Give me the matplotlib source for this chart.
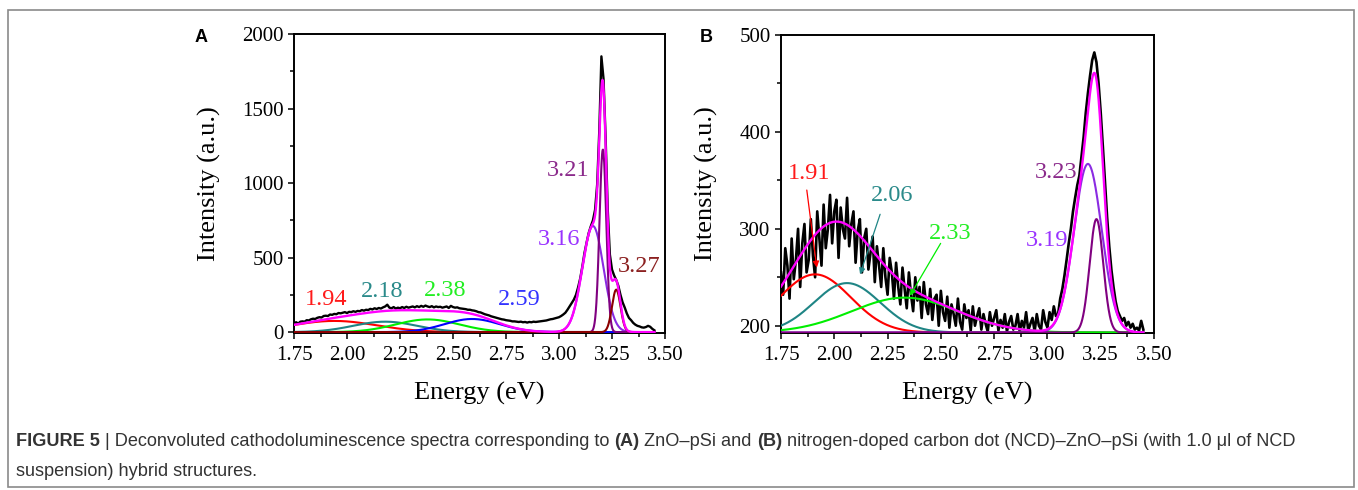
import numpy as np
import matplotlib
matplotlib.use("Agg")
import matplotlib.pyplot as plt
from matplotlib.ticker import MultipleLocator, FixedLocator
from matplotlib.patches import Rectangle

# ---------------- data ----------------
energy_start, energy_step = 1.75, 0.01

# Panel A: measured CL spectrum (ZnO-pSi), 1.75 ... 3.45 eV
spec_A = [60, 66, 58, 70, 72, 70, 80, 78, 86, 90,
          88, 96, 100, 98, 108, 110, 108, 118, 116, 122,
          120, 128, 126, 130, 134, 128, 136, 134, 140, 136,
          142, 140, 148, 144, 150, 148, 156, 152, 160, 155,
          162, 158, 166, 172, 184, 164, 160, 168, 158, 164,
          160, 168, 162, 170, 164, 168, 172, 166, 174, 168,
          176, 170, 178, 172, 168, 174, 166, 172, 168, 170,
          164, 168, 172, 162, 176, 168, 164, 166, 160, 158,
          156, 154, 150, 150, 146, 144, 140, 134, 132, 126,
          120, 116, 112, 106, 102, 98, 94, 90, 86, 84,
          80, 78, 76, 72, 72, 70, 68, 70, 66, 68,
          64, 68, 66, 70, 68, 70, 72, 74, 76, 78,
          82, 86, 88, 92, 96, 100, 108, 118, 130, 150,
          172, 195, 218, 250, 300, 360, 440, 530, 600, 665,
          710, 750, 820, 990, 1350, 1850, 1700, 1300, 820, 520,
          420, 380, 350, 310, 250, 200, 165, 125, 95, 80,
          62, 50, 42, 38, 32, 30, 34, 42, 36, 22,
          12]

# Panel A: Gaussian components
peaks_A = ["1.94", "2.18", "2.38", "2.59", "3.16", "3.21", "3.27"]
center_A = [1.94, 2.18, 2.38, 2.59, 3.16, 3.207, 3.27]
height_A = [75, 70, 85, 88, 712, 1225, 285]
sigma_A = [0.20, 0.15, 0.15, 0.13, 0.05, 0.016, 0.02]
baseline_A = 0

# Panel B: measured CL spectrum (NCD-ZnO-pSi)
spec_B = [255, 232, 280, 262, 228, 290, 248, 268, 300, 240,
          285, 305, 255, 268, 310, 272, 250, 318, 290, 262,
          325, 280, 300, 335, 285, 318, 330, 270, 322, 300,
          290, 332, 282, 305, 318, 265, 298, 310, 255, 290,
          300, 258, 275, 292, 245, 282, 262, 240, 280, 250,
          232, 270, 255, 228, 265, 240, 222, 260, 238, 218,
          255, 232, 215, 250, 226, 240, 208, 245, 222, 212,
          238, 206, 228, 232, 200, 236, 214, 205, 230, 198,
          222, 212, 200, 228, 204, 196, 222, 208, 216, 195,
          220, 200, 210, 218, 196, 212, 202, 194, 214, 200,
          208, 216, 195, 206, 198, 212, 194, 204, 210, 196,
          200, 212, 194, 205, 198, 214, 195, 202, 208, 194,
          212, 200, 196, 216, 204, 198, 214, 206, 220, 210,
          212, 228, 238, 252, 268, 285, 300, 318, 332, 345,
          355, 375, 395, 420, 440, 458, 474, 482, 472, 450,
          420, 385, 348, 312, 282, 258, 240, 225, 215, 210,
          205, 208, 200, 204, 198, 202, 196, 198, 195, 205,
          196]

peaks_B = ["1.91", "2.06", "2.33", "3.19", "3.23"]
center_B = [1.91, 2.06, 2.33, 3.19, 3.23]
height_B = [60, 51, 36, 174, 117]
sigma_B = [0.167, 0.156, 0.25, 0.065, 0.032]
baseline_B = 193

x_ticks = [1.75, 2.00, 2.25, 2.50, 2.75, 3.00, 3.25, 3.50]
y_ticks_A = [0, 500, 1000, 1500, 2000]
y_ticks_B = [200, 300, 400, 500]

# ---------------- styling ----------------
W, H = 1358, 490
plt.rcParams["font.family"] = ["Liberation Serif", "DejaVu Serif"]
fig = plt.figure(figsize=(W / 100, H / 100), dpi=100)
fig.patch.set_facecolor("white")

colors_A = ["#ff0000", "#1f8585", "#00ee00", "#0000ff", "#8a2be2", "#800080", "#8b0000"]
label_colors_A = ["#ff1a1a", "#2a8a8a", "#22ee22", "#3333ff", "#9933ff", "#8b2a8b", "#8b2020"]
colors_B = ["#ff0000", "#1f8585", "#00ee00", "#8a2be2", "#800080"]
label_colors_B = ["#ff1a1a", "#2a8a8a", "#22ee22", "#9933ff", "#8b2a8b"]


def px_axes(l, t, r, b):
    return fig.add_axes([l / W, 1 - b / H, (r - l) / W, (b - t) / H])


def gauss(x, c, h, s):
    return h * np.exp(-0.5 * ((x - c) / s) ** 2)


def style_axes(ax, yticks, yminor, ylim):
    ax.set_xlim(1.75, 3.50)
    ax.set_ylim(*ylim)
    ax.xaxis.set_major_locator(FixedLocator(x_ticks))
    ax.set_xticklabels(["%.2f" % v for v in x_ticks])
    ax.xaxis.set_minor_locator(MultipleLocator(0.125))
    ax.yaxis.set_major_locator(FixedLocator(yticks))
    ax.set_yticklabels([str(v) for v in yticks])
    ax.yaxis.set_minor_locator(MultipleLocator(yminor))
    ax.tick_params(which="both", direction="out", top=False, right=False,
                   labelsize=15, width=1.1, color="black")
    ax.tick_params(which="major", length=4.5, pad=3)
    ax.tick_params(which="minor", length=2.6)
    ax.tick_params(axis="x", which="major", pad=5)
    for sp in ax.spines.values():
        sp.set_linewidth(1.4)
    ax.set_xlabel("Energy (eV)", fontsize=19, labelpad=12)
    ax.set_ylabel("Intensity (a.u.)", fontsize=19, labelpad=15)


xA = energy_start + energy_step * np.arange(len(spec_A))
xB = energy_start + energy_step * np.arange(len(spec_B))
xf = np.linspace(1.75, 3.45, 1200)

# ---------------- panel A ----------------
axA = px_axes(294, 34, 665, 333)
axA.plot(xA, spec_A, color="black", lw=1.7, zorder=2)
compsA = [baseline_A + gauss(xf, c, h, s) for c, h, s in zip(center_A, height_A, sigma_A)]
for y, col in zip(compsA, colors_A):
    axA.plot(xf, y, color=col, lw=1.5, zorder=3)
axA.plot(xf, baseline_A + sum(c - baseline_A for c in compsA), color="#ff00ff", lw=1.7, zorder=4)
style_axes(axA, y_ticks_A, 250, (-6, 2000))

label_pos_A = [(1.90, 219), (2.167, 274), (2.465, 281), (2.811, 219),
               (3.002, 621), (3.042, 1085), (3.377, 442)]
for txt, (lx, ly), col in zip(peaks_A, label_pos_A, label_colors_A):
    axA.text(lx, ly, txt, color=col, fontsize=17.5, ha="center", va="center", zorder=6)

# ---------------- panel B ----------------
axB = px_axes(781, 35, 1154, 333)
axB.plot(xB, spec_B, color="black", lw=1.9, zorder=2)
compsB = [baseline_B + gauss(xf, c, h, s) for c, h, s in zip(center_B, height_B, sigma_B)]
for y, col in zip(compsB, colors_B):
    axB.plot(xf, y, color=col, lw=1.5, zorder=3)
axB.plot(xf, baseline_B + sum(c - baseline_B for c in compsB), color="#ff00ff", lw=1.7, zorder=4)
style_axes(axB, y_ticks_B, 50, (192.5, 500))

label_pos_B = [(1.881, 357), (2.273, 334), (2.543, 295), (2.997, 288), (3.040, 358.5)]
for txt, (lx, ly), col in zip(peaks_B, label_pos_B, label_colors_B):
    axB.text(lx, ly, txt, color=col, fontsize=17.5, ha="center", va="center", zorder=6)

arrows_B = [((1.871, 340), (1.918, 260), "#ff0000"),
            ((2.215, 315), (2.121, 253), "#1f8585"),
            ((2.499, 285), (2.355, 231), "#00ee00")]
for start, end, col in arrows_B:
    axB.annotate("", xy=end, xytext=start,
                 arrowprops=dict(arrowstyle="-|>", color=col, lw=0.9,
                                 mutation_scale=9, shrinkA=0, shrinkB=0), zorder=6)

# ---------------- panel letters ----------------
fig.text(201 / W, 1 - 38 / H, "A", fontsize=13, fontweight="bold",
         family="Liberation Sans", ha="center", va="center")
fig.text(706 / W, 1 - 38 / H, "B", fontsize=13, fontweight="bold",
         family="Liberation Sans", ha="center", va="center")

# ---------------- caption ----------------
cap_color = "#333333"
renderer = fig.canvas.get_renderer()


def draw_line(x_px, y_px, segments, size=13.1):
    x = x_px
    for text, weight in segments:
        t = fig.text(x / W, 1 - y_px / H, text, fontsize=size, fontweight=weight,
                     family=["Liberation Sans", "DejaVu Sans"], color=cap_color,
                     ha="left", va="center")
        bb = t.get_window_extent(renderer)
        x += bb.width


draw_line(16, 441, [("FIGURE 5", "bold"), (" | Deconvoluted cathodoluminescence spectra corresponding to ", "normal"),
                    ("(A)", "bold"), (" ZnO\u2013pSi and ", "normal"), ("(B)", "bold"),
                    (" nitrogen-doped carbon dot (NCD)\u2013ZnO\u2013pSi (with 1.0 \u03bcl of NCD", "normal")])
draw_line(16, 471, [("suspension) hybrid structures.", "normal")])

# ---------------- border ----------------
fig.add_artist(Rectangle((8 / W, 1 - 487 / H), (1354 - 8) / W, (487 - 10) / H,
                         transform=fig.transFigure, fill=False, edgecolor="#8a8a8a", lw=1.2))

fig.savefig("out.png", dpi=100)
